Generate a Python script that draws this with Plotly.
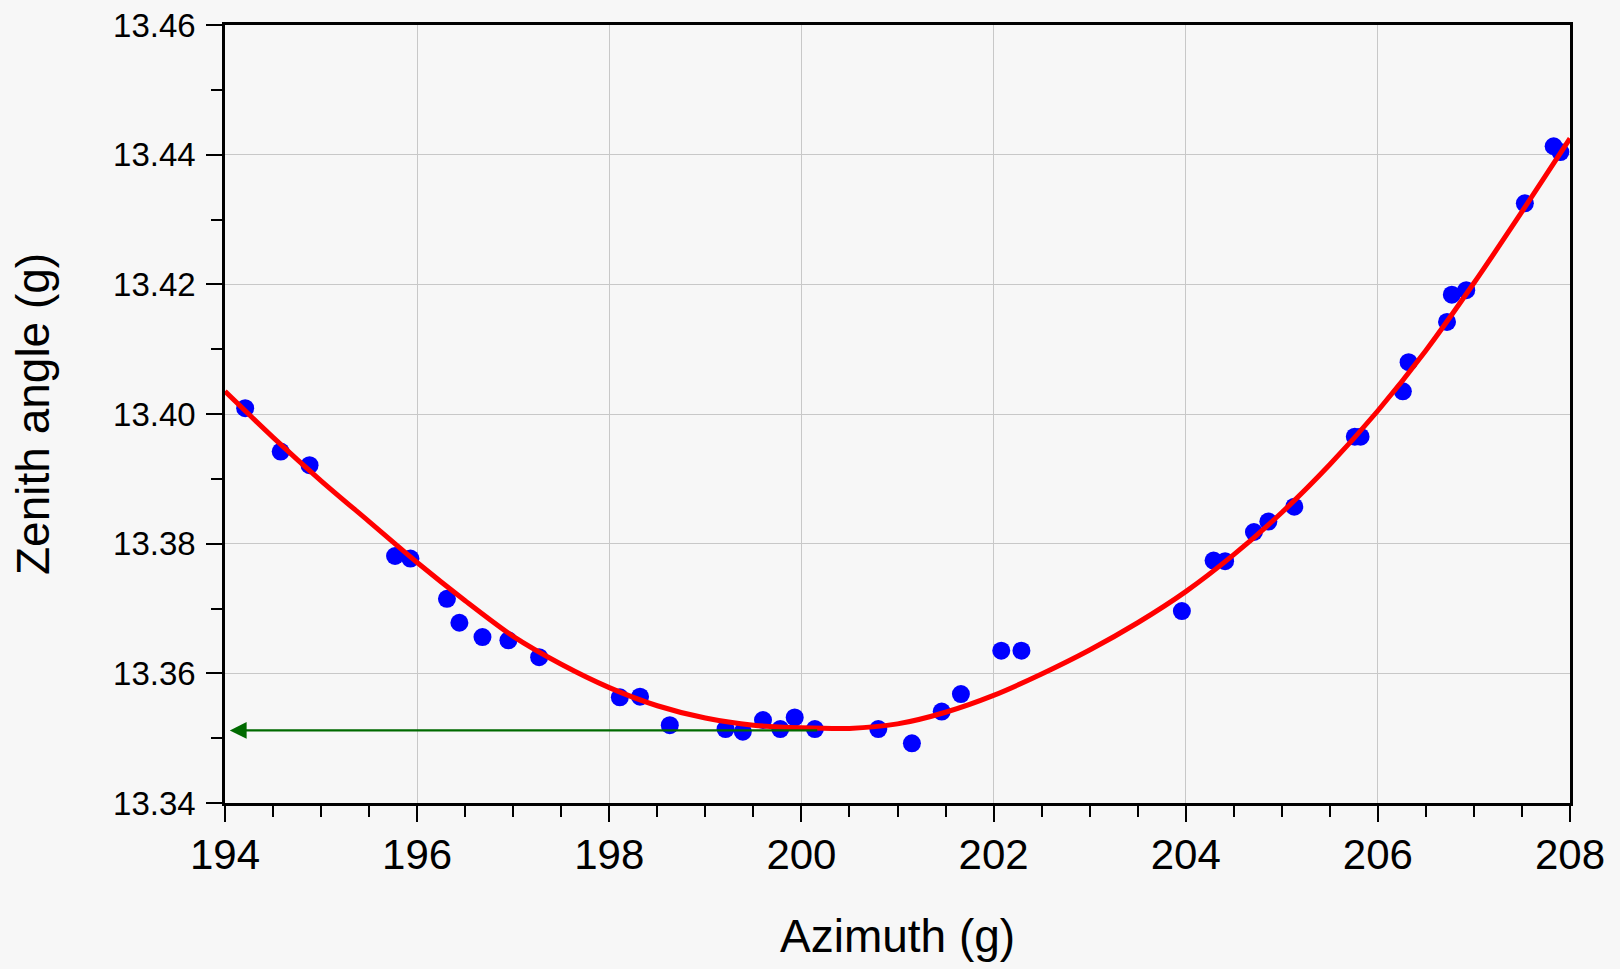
import plotly.graph_objects as go

# Measured points (azimuth, zenith angle), in gon
azimuth = [194.21, 194.58, 194.88, 195.77, 195.93, 196.31, 196.44, 196.68, 196.95, 197.27,
           198.11, 198.32, 198.63, 199.21, 199.39, 199.60, 199.78, 199.93, 200.14, 200.80,
           201.15, 201.46, 201.66, 202.08, 202.29, 203.96, 204.29, 204.41, 204.71, 204.86,
           205.13, 205.76, 205.82, 206.26, 206.32, 206.72, 206.77, 206.92, 207.53, 207.83, 207.90]
zenith = [13.4009, 13.3942, 13.3921, 13.3781, 13.3777, 13.3715, 13.3678, 13.3656, 13.3651, 13.3625,
          13.3563, 13.3564, 13.3520, 13.3514, 13.3510, 13.3528, 13.3514, 13.3532, 13.3514, 13.3514,
          13.3492, 13.3541, 13.3568, 13.3635, 13.3635, 13.3696, 13.3774, 13.3773, 13.3818, 13.3834,
          13.3857, 13.3965, 13.3965, 13.4035, 13.4080, 13.4142, 13.4184, 13.4191, 13.4325, 13.4413, 13.4404]

# Fitted curve
fit_azimuth = [194.0, 194.5, 195.0, 195.5, 196.0, 196.5, 197.0, 197.5, 198.0, 198.5,
               199.0, 199.5, 200.0, 200.5, 201.0, 201.5, 202.0, 202.5, 203.0, 203.5,
               204.0, 204.5, 205.0, 205.5, 206.0, 206.5, 207.0, 207.5, 208.0]
fit_zenith = [13.4035, 13.3964, 13.3897, 13.3834, 13.3771, 13.3712, 13.3657, 13.3614, 13.3578, 13.3550,
              13.3531, 13.3520, 13.3516, 13.3515, 13.3522, 13.3540, 13.3566, 13.3599, 13.3636, 13.3678,
              13.3726, 13.3783, 13.3848, 13.3922, 13.4005, 13.4098, 13.4202, 13.4312, 13.4425]

# Arrow marking the minimum
arrow_zenith = 13.3512
arrow_from_azimuth = 200.18
arrow_to_azimuth = 194.05

x_range = [194, 208]
y_range = [13.34, 13.46]
x_tick_values = [194, 196, 198, 200, 202, 204, 206, 208]
y_tick_values = [13.34, 13.36, 13.38, 13.40, 13.42, 13.44, 13.46]
y_tick_labels = ["13.34", "13.36", "13.38", "13.40", "13.42", "13.44", "13.46"]

FONT = "Liberation Sans, Arial, sans-serif"
BG = "#f7f7f7"

fig = go.Figure()
fig.add_trace(go.Scatter(
    x=azimuth, y=zenith, mode="markers",
    marker=dict(color="#0000ff", size=18, line=dict(width=0)),
    showlegend=False, cliponaxis=False))
fig.add_trace(go.Scatter(
    x=fit_azimuth, y=fit_zenith, mode="lines",
    line=dict(color="#ff0000", width=5, shape="spline", smoothing=0.8),
    showlegend=False))

fig.add_annotation(
    x=arrow_to_azimuth, y=arrow_zenith, ax=arrow_from_azimuth, ay=arrow_zenith,
    xref="x", yref="y", axref="x", ayref="y",
    text="", showarrow=True, arrowhead=2, arrowsize=1.4, arrowwidth=2.4,
    arrowcolor="#006a00", standoff=0, startstandoff=0)

fig.add_annotation(
    text="Azimuth (g)", xref="paper", yref="paper", x=0.5, y=0,
    xanchor="center", yanchor="middle", yshift=-133, showarrow=False,
    font=dict(family=FONT, size=46, color="#000000"))
fig.add_annotation(
    text="Zenith angle (g)", xref="paper", yref="paper", x=0, y=0.5,
    xanchor="center", yanchor="middle", xshift=-192, textangle=-90, showarrow=False,
    font=dict(family=FONT, size=46, color="#000000"))

fig.update_xaxes(
    range=x_range, tickmode="array", tickvals=x_tick_values,
    ticks="outside", ticklen=16, tickwidth=2, tickcolor="#000000",
    minor=dict(ticks="outside", dtick=0.5, tick0=194, ticklen=11, tickwidth=2,
               tickcolor="#000000", showgrid=False),
    showline=True, linecolor="#000000", linewidth=2.5, mirror=True,
    showgrid=True, gridcolor="#c8c8c8", gridwidth=1.2, zeroline=False,
    tickfont=dict(family=FONT, size=42, color="#000000"), ticklabelstandoff=-3)
fig.update_yaxes(
    range=y_range, tickmode="array", tickvals=y_tick_values, ticktext=y_tick_labels,
    ticks="outside", ticklen=16, tickwidth=2, tickcolor="#000000",
    minor=dict(ticks="outside", dtick=0.01, tick0=13.34, ticklen=11, tickwidth=2,
               tickcolor="#000000", showgrid=False),
    showline=True, linecolor="#000000", linewidth=2.5, mirror=True,
    showgrid=True, gridcolor="#c8c8c8", gridwidth=1.2, zeroline=False,
    tickfont=dict(family=FONT, size=33, color="#000000"), ticklabelstandoff=4)

fig.update_layout(
    width=1620, height=969,
    margin=dict(l=225, r=50, t=25, b=166, autoexpand=False),
    paper_bgcolor=BG, plot_bgcolor=BG,
    font=dict(family=FONT, color="#000000"),
)

fig.write_html(
    "out.html", config={"displayModeBar": False},
    post_script="document.body.style.margin='0';document.body.style.background='#f7f7f7';document.body.style.overflow='hidden';")
